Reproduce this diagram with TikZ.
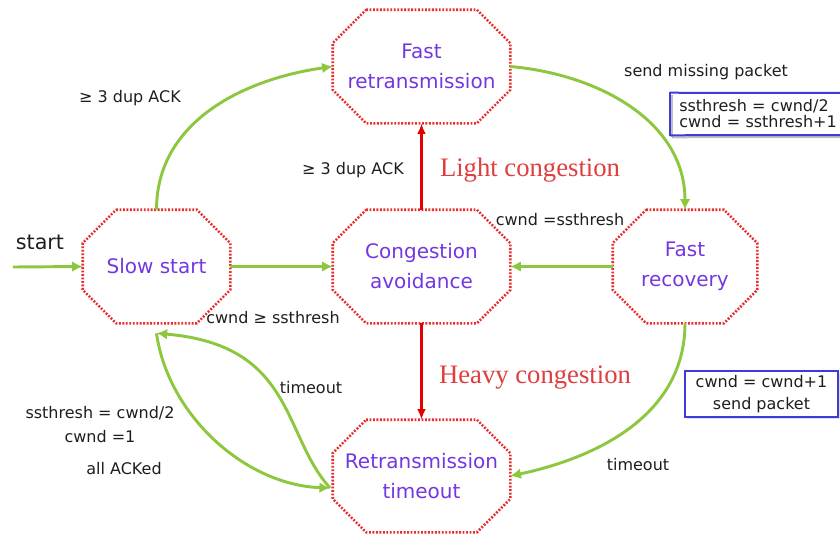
\documentclass[tikz,border=0pt]{standalone}
\usepackage{fontspec}
\setmainfont{DejaVu Sans}
\newfontfamily\congfont{Liberation Serif}
\usetikzlibrary{arrows.meta,shadows}

\definecolor{arrowgreen}{RGB}{141,198,63}
\definecolor{statered}{RGB}{232,45,45}
\definecolor{statetext}{RGB}{115,55,225}
\definecolor{congred}{RGB}{222,62,62}
\definecolor{boxblue}{RGB}{60,60,215}
\definecolor{labelgray}{RGB}{30,30,30}

% size of the cut corners of a state frame
\newcommand\octcutlen{25pt}
% dotted octagonal frame round a named state node
\newcommand\octframe[1]{%
  \draw[octline]
    ([xshift=\octcutlen]#1.north west) -- ([xshift=-\octcutlen]#1.north east)
    -- ([yshift=-\octcutlen]#1.north east) -- ([yshift=\octcutlen]#1.south east)
    -- ([xshift=-\octcutlen]#1.south east) -- ([xshift=\octcutlen]#1.south west)
    -- ([yshift=\octcutlen]#1.south west) -- ([yshift=-\octcutlen]#1.north west)
    -- cycle;}

\tikzset{
  state/.style={rectangle, inner sep=0pt, align=center, text=statetext,
    font=\fontsize{15}{22.5}\selectfont},
  octline/.style={statered, line width=1.9pt, dash pattern=on 1.4pt off 1.2pt},
  garrow/.style={arrowgreen, line width=2.2pt, -{Latex[length=8pt,width=8pt]}},
  rarrow/.style={red!90!black, line width=1.6pt, -{Latex[length=8pt,width=6.5pt]}},
  lab/.style={text=labelgray, font=\fontsize{12}{18}\selectfont, inner sep=0pt},
  cong/.style={text=congred, font=\congfont\fontsize{20}{24}\selectfont, inner sep=0pt},
  infobox/.style={draw=boxblue, line width=1.5pt, fill=white, text=labelgray,
    drop shadow={opacity=0.25, shadow xshift=1.5pt, shadow yshift=-1.5pt}},
  infoframe/.style={boxblue, line width=1.5pt},
  infoshadow/.style={black, opacity=0.25, line width=1.5pt},
}

\begin{document}
\begin{tikzpicture}[x=0.75pt,y=0.75pt]
\useasboundingbox (0,0) rectangle (840,-533);
\clip (0,0) rectangle (840,-533);

% states
\node[state, minimum width=132.75pt, minimum height=84.75pt] (fr)  at (421.5,-66.5) {Fast\\retransmission};
\node[state, minimum width=110.25pt, minimum height=84.75pt] (ss)  at (156.5,-266.5) {Slow start};
\node[state, minimum width=132.75pt, minimum height=84.75pt] (ca)  at (421.5,-266.5) {Congestion\\avoidance};
\node[state, minimum width=108pt,    minimum height=84.75pt] (fre) at (685,-266.5) {Fast\\recovery};
\node[state, minimum width=132.75pt, minimum height=84pt]    (rto) at (421.5,-476) {Retransmission\\timeout};
\octframe{fr}
\octframe{ss}
\octframe{ca}
\octframe{fre}
\octframe{rto}

% free ends and attachment points
\coordinate (st)  at (13,-267);
\coordinate (ssb) at ([yshift=-7.5pt]ss.south);
\coordinate (rtl) at ([xshift=-2pt,yshift=-9pt]rto.west);

% green transitions
\draw[garrow] (st) -- (ss.west);
\draw[garrow] (ss.east) -- (ca.west);
\draw[garrow] (fre.west) -- (ca.east);
\draw[garrow] (ss.north) to[out=90,in=188] (fr.west);
\draw[garrow] (fr.east) to[out=-5,in=90] (fre.north);
\draw[garrow] (fre.south) to[out=-90,in=12] (rto.east);
\draw[garrow] (rtl) .. controls (282,-435) and (295,-345) .. (ssb);
\draw[garrow] (ssb) .. controls (168,-415) and (245,-485) .. (rtl);

% red transitions
\draw[rarrow] (ca.north) -- (fr.south);
\draw[rarrow] (ca.south) -- (rto.north);

% transition labels
\node[lab] (l1) at (130,-98) {≥ 3 dup ACK};
\node[lab] (l2) at (353,-170) {≥ 3 dup ACK};
\node[lab] (l3) at (706,-72) {send missing packet};
\node[lab] (l4) at (560,-220) {cwnd =ssthresh};
\node[lab] (l5) at (273,-318) {cwnd ≥ ssthresh};
\node[lab] (l6) at (311,-388) {timeout};
\node[lab, align=center] (l7) at (100,-425) {ssthresh = cwnd/2\\cwnd =1};
\node[lab] (l8) at (124,-469) {all ACKed};
\node[lab] (l9) at (638,-465) {timeout};
\node[text=labelgray, font=\fontsize{15.5}{18}\selectfont, inner sep=0pt] (lst) at (40,-242) {start};

% congestion levels
\node[cong] (light) at (530,-170) {Light congestion};
\node[cong] (heavy) at (535,-378) {Heavy congestion};

% actions; the first box runs on past the right edge, so it has no right side
\node[anchor=west, text width=120pt, align=left, inner xsep=6.75pt, inner ysep=0pt,
  minimum height=31.5pt, text=labelgray, font=\fontsize{12}{12}\selectfont]
  (b1) at (670,-114) {ssthresh = cwnd/2\\cwnd = ssthresh+1};
\coordinate (b1top) at (860,-93);
\coordinate (b1bot) at (860,-135);
\draw[infoshadow] ([xshift=1.5pt,yshift=-1.5pt]b1.north west) -- ([xshift=1.5pt,yshift=-1.5pt]b1.south west);
\draw[infoshadow] ([xshift=1.5pt,yshift=-1.5pt]b1.south west) -- ([yshift=-1.5pt]b1bot);
\draw[infoframe] (b1.north west) -- (b1top);
\draw[infoframe] (b1.south west) -- (b1bot);
\draw[infoframe, line cap=rect] (b1.north west) -- (b1.south west);
\node[infobox, minimum width=114.75pt, minimum height=34pt, align=center,
  font=\fontsize{12}{16}\selectfont] (b2) at (761.5,-394)
  {cwnd = cwnd+1\\send packet};
\end{tikzpicture}
\end{document}
